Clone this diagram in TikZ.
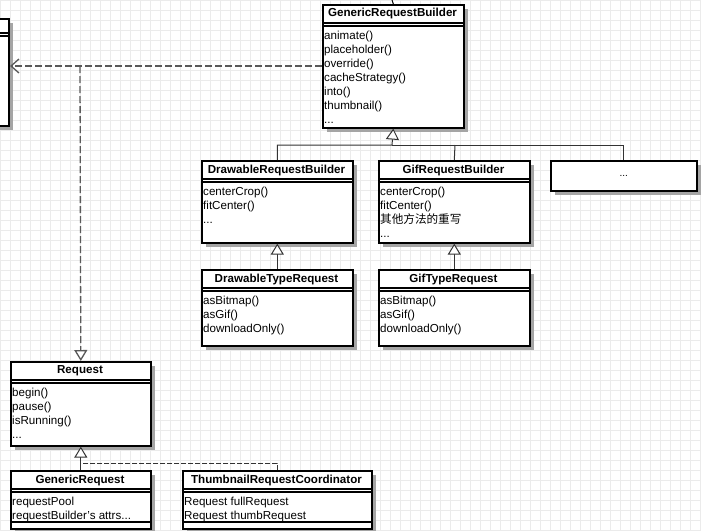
\documentclass[tikz,border=0pt]{standalone}
\usepackage{fontspec}
\setmainfont{Liberation Sans}
\newfontfamily\cjk{Noto Sans CJK SC}
\usetikzlibrary{arrows.meta,calc}
\definecolor{shadowc}{RGB}{165,165,165}
\newcommand\cls[7]{%
 \node[fill=shadowc, draw=none, inner sep=0pt, minimum width=#4pt, minimum height=#5pt, anchor=north west] at (#2+5,#3+5) {};
 \node[box, minimum width=#4pt, minimum height=#5pt, anchor=north west] (#1) at (#2,#3) {};
 \node[ttl] at (#2+#4/2,#3+10) {#6};
 \draw[line width=1.2pt] (#2,#3+19) -- ++(#4,0) (#2,#3+22) -- ++(#4,0);
 \node[anchor=north west, align=left, inner sep=0pt, font=\fontsize{11.6}{14}\selectfont] at (#2+2,#3+27) {#7};
}
\begin{document}
\begin{tikzpicture}[x=1pt,y=-1pt,
 box/.style={draw, line width=1.6pt, fill=white, inner sep=0pt},
 ttl/.style={font=\bfseries\fontsize{11.6}{12}\selectfont},
 inh/.style={-{Triangle[open,length=11pt,width=13pt,fill=white]}, line width=1pt, black!80},
 dep/.style={-{Straight Barb[length=8pt,width=14pt]}, line width=1.3pt, black!65, dash pattern=on 7pt off 3pt}]
\useasboundingbox (0,0) rectangle (701,530);
\fill[white] (0,0) rectangle (701,530);
\foreach \i in {0,10,...,700} \draw[black!8] (\i,0) -- (\i,530);
\foreach \j in {0,10,...,530} \draw[black!8] (0,\j) -- (701,\j);
% left partial box
\node[fill=shadowc, inner sep=0pt, minimum width=20pt, minimum height=107pt, anchor=north west] at (-7,23) {};
\node[box, minimum width=20pt, minimum height=107pt, anchor=north west] (left) at (-12,18) {};
\draw[line width=1.2pt] (-12,33) -- (8,33) (-12,36) -- (8,36);
\coordinate (leftp) at (10,66);
\cls{grb}{322}{4}{141}{123}{GenericRequestBuilder}{animate()\\placeholder()\\override()\\cacheStrategy()\\into()\\thumbnail()\\...}
\coordinate (grbtop) at (392,0);
\draw[line width=1pt] (grb.north) -- (grbtop);
\cls{drb}{201}{160}{151}{82}{DrawableRequestBuilder}{centerCrop()\\fitCenter()\\...}
\cls{gifrb}{378}{160}{151}{82}{GifRequestBuilder}{centerCrop()\\fitCenter()\\{\cjk 其他方法的重写}\\...}
\node[fill=shadowc, inner sep=0pt, minimum width=146pt, minimum height=30pt, anchor=north west] at (555,165) {};
\node[box, minimum width=146pt, minimum height=30pt, anchor=north west] (other) at (550,160) {...};
\cls{dtr}{201}{269}{151}{76}{DrawableTypeRequest}{asBitmap()\\asGif()\\downloadOnly()}
\cls{gtr}{378}{269}{151}{76}{GifTypeRequest}{asBitmap()\\asGif()\\downloadOnly()}
\cls{req}{10}{361}{140}{84}{Request}{begin()\\pause()\\isRunning()\\...}
\cls{gr}{10}{470}{140}{58}{GenericRequest}{requestPool\\requestBuilder's attrs...}
\cls{trc}{182}{470}{189}{58}{ThumbnailRequestCoordinator}{Request fullRequest\\Request thumbRequest}
\draw[line width=1.2pt] (10,522) -- (150,522) (182,522) -- (371,522);
% dependency
\draw[dep] (grb.west |- 0,66) -- (leftp);
\draw[inh, black!65, line width=1.3pt, dash pattern=on 7pt off 3pt] (80,66) -- (req.north);
% inheritance
\draw[inh] (drb.north) |- (392,145) -- (grb.south);
\draw[line width=1pt, black!80] (gifrb.north) -- (455,145);
\draw[line width=1pt, black!80] (other.north) |- (392,145);
\draw[inh] (dtr.north) -- (drb.south);
\draw[inh] (gtr.north) -- (gifrb.south);
\draw[inh] (gr.north) -- (req.south);
\draw[line width=1pt, black!80, dash pattern=on 5pt off 2pt] (trc.north) |- (80,463);
\end{tikzpicture}
\end{document}
